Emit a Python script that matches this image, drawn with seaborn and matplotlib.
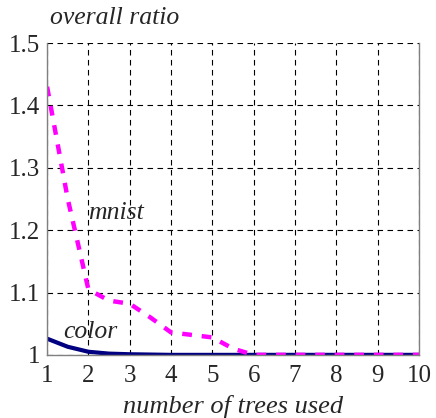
import matplotlib
matplotlib.use("Agg")
import matplotlib.pyplot as plt
import pandas as pd
import seaborn as sns

# values
mnist_trees = [1, 1.5, 2, 2.5, 3, 3.5, 4, 4.5, 5, 5.5, 6, 7, 8, 9, 10]
mnist_ratio = [1.43, 1.25, 1.105, 1.087, 1.082, 1.06, 1.036, 1.032, 1.028, 1.01, 1.0, 1.0, 1.0, 1.0, 1.0]
color_trees = [1, 1.5, 2, 2.5, 3, 4, 5, 6, 7, 8, 9, 10]
color_ratio = [1.026, 1.013, 1.005, 1.002, 1.001, 1.0, 1.0, 1.0, 1.0, 1.0, 1.0, 1.0]
x_ticks = [1, 2, 3, 4, 5, 6, 7, 8, 9, 10]
y_ticks = [1.0, 1.1, 1.2, 1.3, 1.4, 1.5]
y_labels = ["1", "1.1", "1.2", "1.3", "1.4", "1.5"]

sns.set_style("white")
plt.rcParams["font.family"] = "serif"
plt.rcParams["font.serif"] = ["Liberation Serif", "DejaVu Serif"]

mnist = pd.DataFrame({"trees": mnist_trees, "ratio": mnist_ratio})
color = pd.DataFrame({"trees": color_trees, "ratio": color_ratio})

fig = plt.figure(figsize=(4.36, 4.18), dpi=100)
ax = fig.add_axes([0.108, 0.151, 0.853, 0.746])

sns.lineplot(data=color, x="trees", y="ratio", ax=ax, color="#000080", linewidth=3)
sns.lineplot(data=mnist, x="trees", y="ratio", ax=ax, color="#ff00ff",
             linewidth=3.2, linestyle=(0, (2.2, 2.2)))

fs = 18.5
ax.set_xlim(1, 10)
ax.set_ylim(1, 1.5)
ax.set_xticks(x_ticks)
ax.set_yticks(y_ticks)
ax.set_yticklabels(y_labels)
ax.grid(True, color="black", linestyle=(0, (5, 4)), linewidth=0.8)
ax.set_axisbelow(True)
ax.tick_params(labelsize=18, direction="in", length=3, color="gray")
ax.tick_params(axis="x", pad=7)
ax.tick_params(axis="y", pad=5)

for side in ["left", "right", "bottom"]:
    ax.spines[side].set_color("gray")
    ax.spines[side].set_linewidth(1)
ax.spines["top"].set_visible(False)

ax.set_xlabel("number of trees used", fontsize=19, style="italic", labelpad=6)
ax.set_ylabel("")
fig.text(0.115, 0.943, "overall ratio", fontsize=fs, style="italic")
ax.text(2.0, 1.218, "mnist", fontsize=fs, style="italic")
ax.text(1.39, 1.027, "color", fontsize=fs, style="italic")

fig.savefig("out.png", dpi=100)
